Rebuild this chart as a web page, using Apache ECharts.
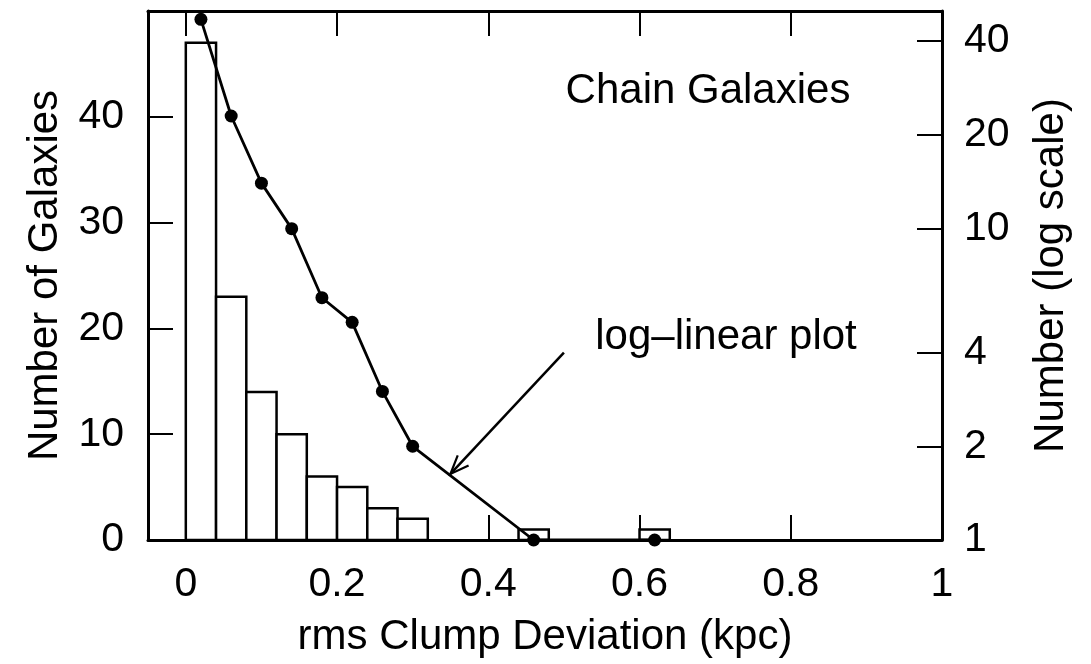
<!DOCTYPE html>
<html><head><meta charset="utf-8">
<script src="https://cdn.jsdelivr.net/npm/echarts@6/dist/echarts.min.js"></script>
<style>html,body{margin:0;padding:0;background:#fff}#c{width:1091px;height:664px}</style>
</head><body><div id="c"></div>
<script>
// ---- data ----
const binStart = [0.00, 0.04, 0.08, 0.12, 0.16, 0.20, 0.24, 0.28, 0.44, 0.60];
const binEnd   = [0.04, 0.08, 0.12, 0.16, 0.20, 0.24, 0.28, 0.32, 0.48, 0.64];
const counts   = [47, 23, 14, 10, 6, 5, 3, 2, 1, 1];
const xTicks = [0, 0.2, 0.4, 0.6, 0.8, 1];
const leftTicks = [0, 10, 20, 30, 40];
const rightTicks = [1, 2, 4, 10, 20, 40];
const xTitle = 'rms Clump Deviation (kpc)';
const leftTitle = 'Number of Galaxies';
const rightTitle = 'Number (log scale)';
const note1 = 'Chain Galaxies';
const note2 = 'log\u2013linear plot';
const arrowTail = [0.50, 4.0];
const arrowTip = [0.35, 1.63];

// ---- build ----
const FONT = 'Liberation Sans, Arial, Helvetica, sans-serif';
const histData = binStart.map((s, i) => [s, binEnd[i], counts[i]]);
const lineData = binStart.map((s, i) => [(s + binEnd[i]) / 2, counts[i]]);

const axisLine = {show: true, onZero: false, lineStyle: {color: '#000', width: 3}};
const tickStyle = {lineStyle: {color: '#000', width: 2}};
const labelStyle = {color: '#000', fontSize: 41, fontFamily: FONT};
const nameStyle = {color: '#000', fontSize: 42, fontFamily: FONT};

const chart = echarts.init(document.getElementById('c'), null, {renderer: 'canvas'});
chart.setOption({
  animation: false,
  backgroundColor: '#fff',
  grid: {left: 148, right: 149, top: 11, bottom: 124, containLabel: false},
  xAxis: [
    {type: 'value', position: 'bottom', min: -0.05, max: 1,
     axisLine: axisLine,
     axisTick: Object.assign({show: true, inside: true, length: 25, customValues: xTicks}, tickStyle),
     axisLabel: Object.assign({show: true, margin: 24, customValues: xTicks,
       formatter: v => String(Math.round(v * 10) / 10)}, labelStyle),
     splitLine: {show: false},
     name: xTitle, nameLocation: 'middle', nameGap: 76, nameTextStyle: nameStyle},
    {type: 'value', position: 'top', min: -0.05, max: 1,
     axisLine: axisLine,
     axisTick: Object.assign({show: true, inside: true, length: 25, customValues: xTicks}, tickStyle),
     axisLabel: {show: false}, splitLine: {show: false}}
  ],
  yAxis: [
    {type: 'value', position: 'left', min: 0, max: 50,
     axisLine: axisLine,
     axisTick: Object.assign({show: true, inside: true, length: 25, customValues: leftTicks}, tickStyle),
     axisLabel: Object.assign({show: true, margin: 24, customValues: leftTicks}, labelStyle),
     splitLine: {show: false},
     name: leftTitle, nameLocation: 'middle', nameGap: 82, nameRotate: 90, nameTextStyle: nameStyle},
    {type: 'log', logBase: 10, position: 'right', min: 1, max: 50,
     axisLine: axisLine,
     axisTick: Object.assign({show: true, inside: true, length: 25, customValues: rightTicks}, tickStyle),
     axisLabel: Object.assign({show: true, margin: 22, customValues: rightTicks}, labelStyle),
     splitLine: {show: false}, minorTick: {show: false},
     name: rightTitle, nameLocation: 'middle', nameGap: 88, nameRotate: 90, nameTextStyle: nameStyle}
  ],
  series: [
    {type: 'custom', xAxisIndex: 0, yAxisIndex: 0, data: histData,
     encode: {x: [0, 1], y: 2}, z: 2,
     renderItem: function (params, api) {
       const p0 = api.coord([api.value(0), 0]);
       const p1 = api.coord([api.value(1), api.value(2)]);
       return {type: 'rect',
         shape: {x: p0[0], y: p1[1], width: p1[0] - p0[0], height: p0[1] - p1[1]},
         style: {fill: '#fff', stroke: '#000', lineWidth: 2.5}};
     }},
    {type: 'line', xAxisIndex: 0, yAxisIndex: 1, data: lineData, z: 3, clip: false,
     symbol: 'circle', symbolSize: 13, showSymbol: true,
     itemStyle: {color: '#000'}, lineStyle: {color: '#000', width: 2.8}}
  ]
});

// annotations
const tail = chart.convertToPixel({xAxisIndex: 0, yAxisIndex: 1}, arrowTail);
const tip = chart.convertToPixel({xAxisIndex: 0, yAxisIndex: 1}, arrowTip);
const ang = Math.atan2(tail[1] - tip[1], tail[0] - tip[0]);
const bl = 20, spread = 0.38;
const b1 = [tip[0] + bl * Math.cos(ang + spread), tip[1] + bl * Math.sin(ang + spread)];
const b2 = [tip[0] + bl * Math.cos(ang - spread), tip[1] + bl * Math.sin(ang - spread)];
chart.setOption({
  graphic: [
    {type: 'text', z: 10, style: {x: 708, y: 91, text: note1, textAlign: 'center', textVerticalAlign: 'middle',
      font: '42px ' + FONT, fill: '#000'}},
    {type: 'text', z: 10, style: {x: 726, y: 337, text: note2, textAlign: 'center', textVerticalAlign: 'middle',
      font: '42px ' + FONT, fill: '#000'}},
    {type: 'line', z: 10, shape: {x1: tail[0], y1: tail[1], x2: tip[0], y2: tip[1]},
      style: {stroke: '#000', lineWidth: 2.5}},
    {type: 'polyline', z: 10, shape: {points: [b1, tip, b2]},
      style: {stroke: '#000', lineWidth: 2.2, fill: null}}
  ]
});
</script></body></html>
